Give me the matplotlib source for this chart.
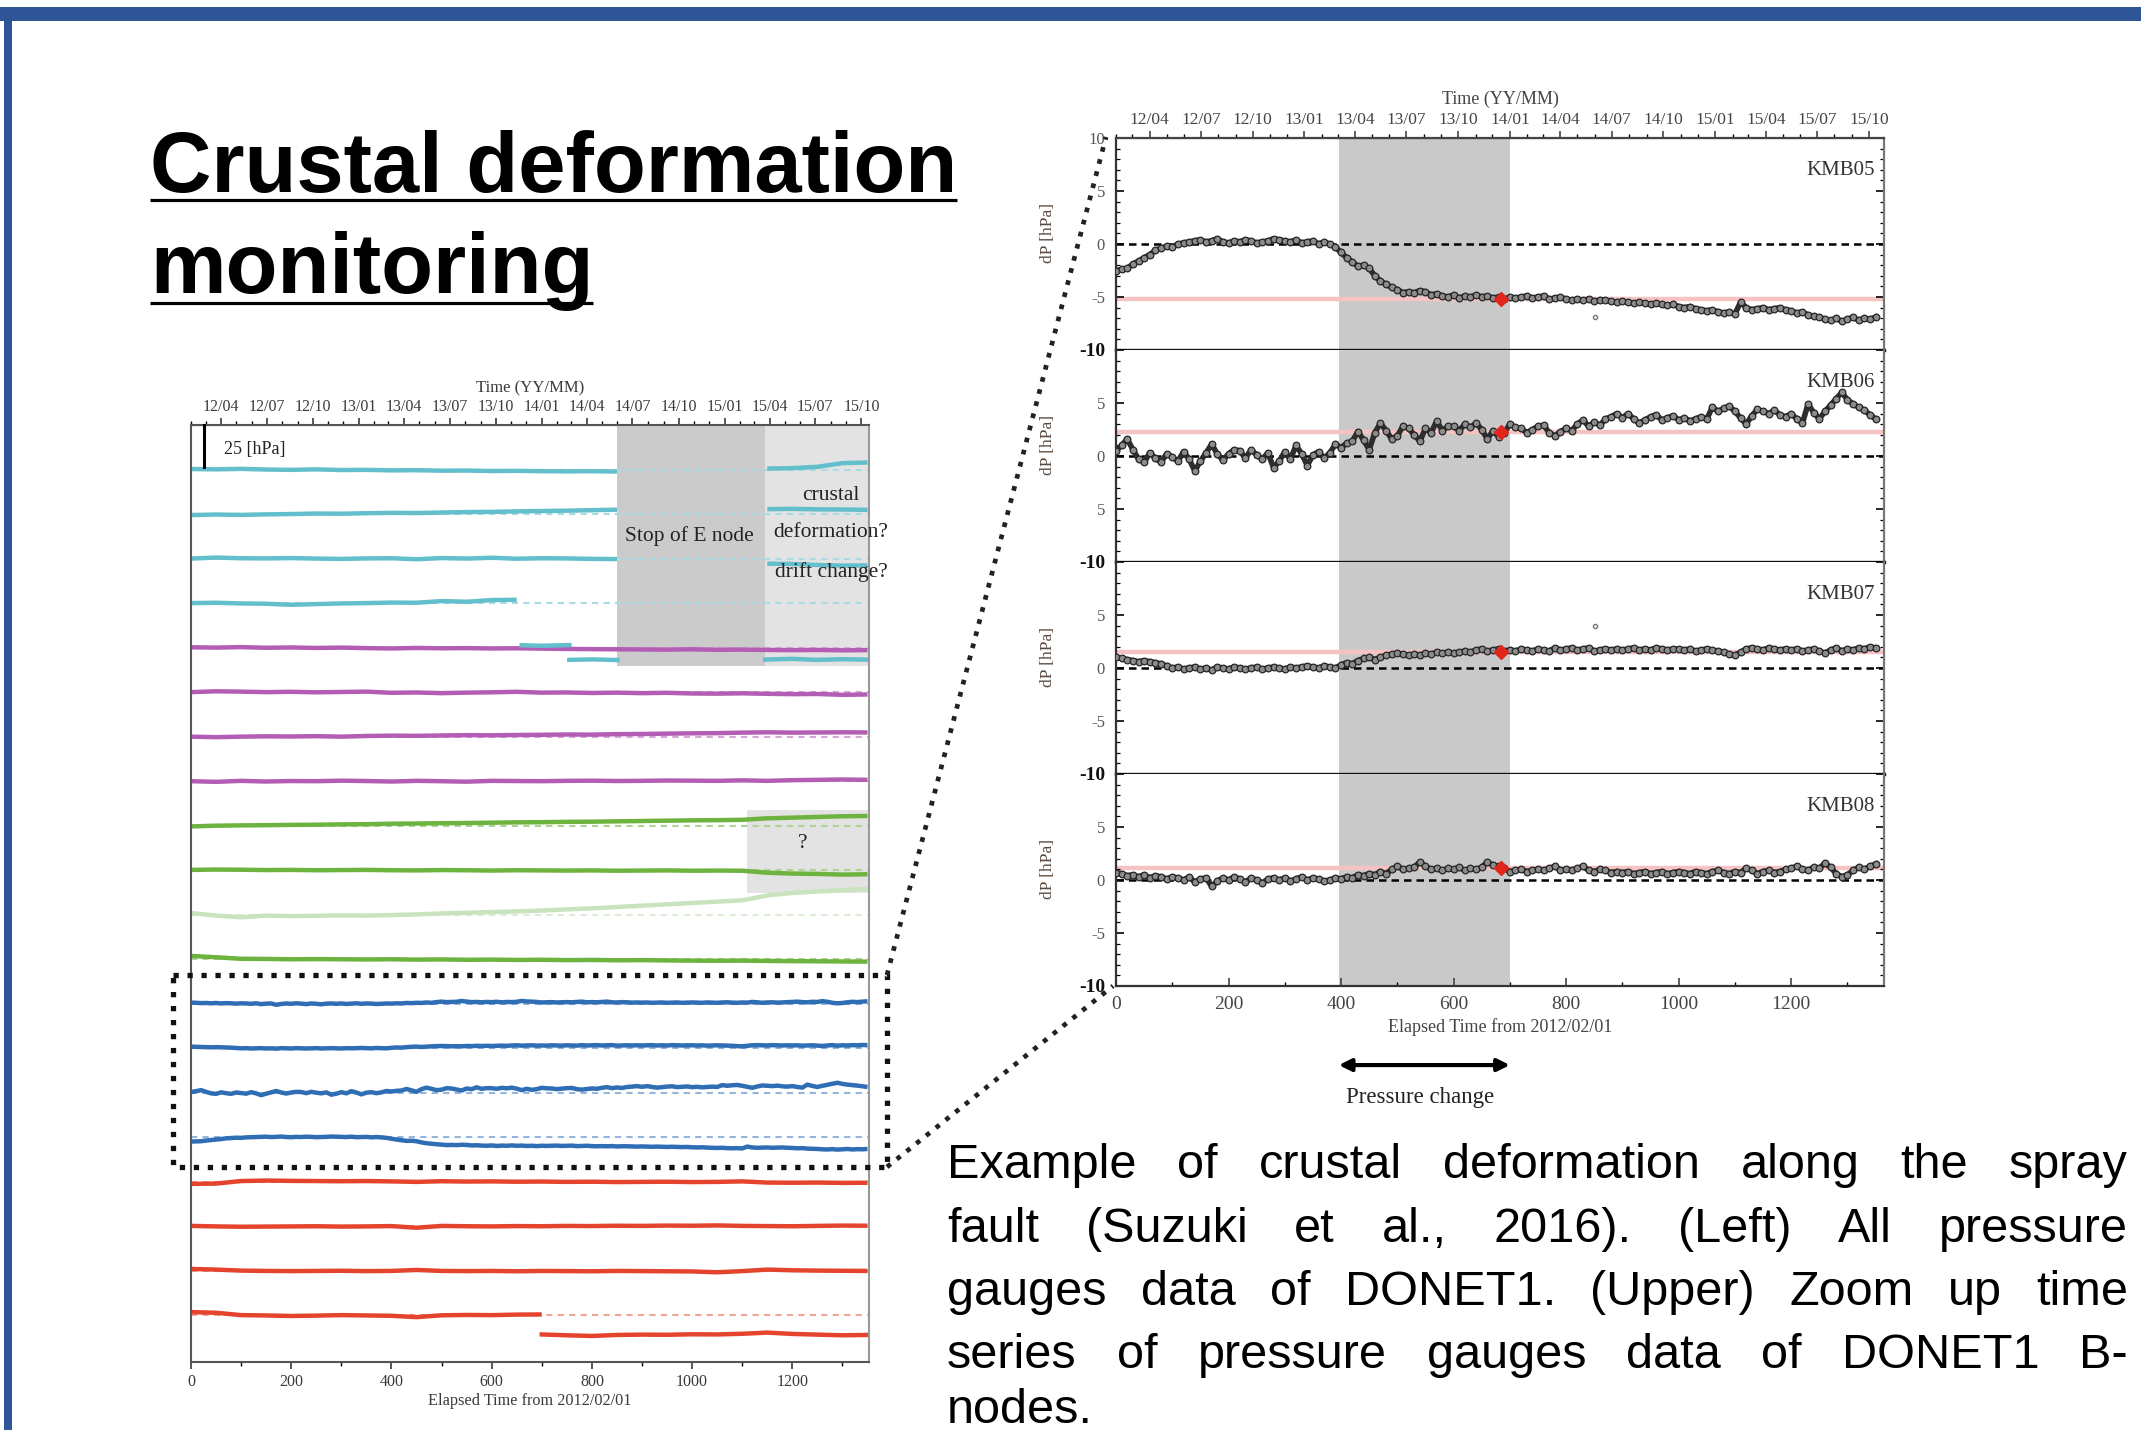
import datetime as dt
import numpy as np
import matplotlib
matplotlib.use("Agg")
import matplotlib.pyplot as plt
from matplotlib import font_manager
from matplotlib.patches import Rectangle
from matplotlib.ticker import MultipleLocator, FixedLocator

nan = np.nan

# ------------------------------------------------------------------
# DATA : zoomed B-node gauges (dP in hPa, one value every 10 days from 2012/02/01)
# ------------------------------------------------------------------
STEP_DAYS = 10
KMB05 = [-2.5, -2.4, -2.3, -1.9, -1.6, -1.3, -1.0, -0.6, -0.4, -0.2,
         -0.3, 0.0, 0.1, 0.2, 0.3, 0.4, 0.2, 0.3, 0.5, 0.2,
         0.1, 0.3, 0.2, 0.4, 0.3, 0.1, 0.2, 0.3, 0.5, 0.4,
         0.3, 0.2, 0.4, 0.1, 0.2, 0.3, 0.0, 0.2, 0.0, -0.3,
         -0.8, -1.3, -1.7, -2.1, -2.0, -2.3, -3.0, -3.5, -3.8, -4.1,
         -4.3, -4.6, -4.5, -4.6, -4.4, -4.5, -4.8, -4.7, -4.9, -5.0,
         -4.8, -5.1, -4.9, -5.0, -4.8, -5.0, -4.9, -5.1, -5.0, -5.2,
         -5.0, -5.1, -5.0, -4.9, -5.1, -5.0, -4.9, -5.2, -5.1, -5.0,
         -5.2, -5.3, -5.2, -5.3, -5.2, -5.4, -5.3, -5.3, -5.4, -5.5,
         -5.4, -5.5, -5.6, -5.5, -5.6, -5.7, -5.6, -5.7, -5.8, -5.7,
         -5.9, -6.0, -5.9, -6.1, -6.2, -6.3, -6.2, -6.4, -6.5, -6.4,
         -6.6, -5.5, -6.0, -6.2, -6.1, -6.0, -6.2, -6.1, -6.0, -6.2,
         -6.3, -6.5, -6.4, -6.7, -6.8, -6.9, -7.1, -7.2, -7.0, -7.3,
         -7.1, -6.9, -7.2, -7.0, -7.1, -6.9]
KMB06 = [0.5, 1.0, 1.6, 0.6, -0.3, -0.6, 0.3, -0.2, -0.6, 0.2,
         -0.1, -0.5, 0.4, -0.3, -1.4, -0.5, 0.3, 1.1, 0.2, -0.4,
         0.2, 0.6, 0.5, -0.2, 0.6, 0.1, -0.3, 0.3, -1.1, -0.5,
         0.4, -0.3, 1.0, 0.2, -0.9, 0.1, 0.4, -0.2, 0.3, 1.1,
         0.8, 1.2, 1.4, 2.3, 1.5, 0.6, 2.2, 3.1, 2.4, 1.6,
         1.9, 2.8, 2.6, 2.0, 1.4, 2.6, 2.2, 3.3, 2.4, 2.8,
         2.8, 2.4, 3.0, 2.7, 3.1, 2.5, 1.6, 2.4, 1.8, 2.2,
         3.0, 2.7, 2.6, 2.2, 2.5, 2.8, 2.9, 2.2, 1.9, 2.3,
         2.6, 2.4, 3.0, 3.4, 2.8, 3.2, 2.9, 3.5, 3.7, 4.0,
         3.6, 4.0, 3.5, 3.1, 3.4, 3.7, 3.9, 3.4, 3.6, 3.8,
         3.4, 3.6, 3.3, 3.5, 3.7, 3.5, 4.6, 4.2, 4.5, 4.7,
         4.2, 3.6, 3.0, 3.8, 4.4, 4.2, 4.0, 4.3, 3.9, 3.7,
         4.0, 3.5, 3.1, 4.9, 4.1, 3.5, 4.2, 4.8, 5.4, 6.0,
         5.3, 4.9, 4.6, 4.3, 3.9, 3.5]
KMB07 = [1.0, 0.9, 0.8, 0.7, 0.6, 0.7, 0.6, 0.5, 0.4, 0.2,
         0.0, 0.1, -0.1, 0.0, 0.1, -0.1, 0.0, -0.2, 0.1, 0.0,
         -0.1, 0.1, 0.0, -0.1, 0.0, 0.1, -0.1, 0.0, 0.1, 0.0,
         -0.1, 0.1, 0.0, 0.1, 0.2, 0.1, 0.0, 0.2, 0.1, 0.0,
         0.3, 0.5, 0.4, 0.7, 0.9, 1.0, 0.8, 1.0, 1.2, 1.3,
         1.4, 1.3, 1.2, 1.3, 1.2, 1.4, 1.3, 1.5, 1.4, 1.5,
         1.4, 1.5, 1.6, 1.5, 1.7, 1.8, 1.6, 1.7, 1.8, 1.6,
         1.7, 1.6, 1.8, 1.7, 1.6, 1.8, 1.7, 1.6, 1.9, 1.7,
         1.8, 1.9, 1.7, 1.8, 1.9, 1.6, 1.7, 1.8, 1.7, 1.8,
         1.7, 1.8, 1.9, 1.7, 1.8, 1.7, 1.9, 1.8, 1.7, 1.8,
         1.8, 1.7, 1.8, 1.6, 1.7, 1.8, 1.7, 1.6, 1.5, 1.3,
         1.2, 1.5, 1.8, 1.9, 1.8, 1.7, 1.9, 1.8, 1.7, 1.8,
         1.7, 1.8, 1.6, 1.7, 1.8, 1.6, 1.4, 1.7, 1.9, 1.6,
         1.8, 1.7, 1.9, 1.8, 2.0, 1.9]
KMB08 = [0.7, 0.6, 0.4, 0.5, 0.3, 0.5, 0.2, 0.4, 0.3, 0.1,
         0.3, 0.2, 0.0, 0.3, -0.2, 0.1, 0.2, -0.6, -0.1, 0.2,
         0.0, 0.3, 0.1, -0.2, 0.2, 0.0, -0.3, 0.1, 0.2, 0.0,
         0.2, -0.1, 0.1, 0.3, 0.0, 0.2, 0.1, -0.1, 0.0, 0.2,
         0.1, 0.3, 0.2, 0.5, 0.4, 0.6, 0.5, 0.8, 0.6, 1.0,
         1.3, 1.0, 1.1, 1.2, 1.7, 1.3, 1.0, 1.1, 0.9, 1.1,
         1.0, 1.2, 0.9, 1.1, 1.0, 1.2, 1.7, 1.4, 1.3, 1.1,
         0.8, 0.9, 1.0, 0.8, 0.9, 1.0, 0.9, 1.1, 1.3, 0.9,
         1.0, 0.9, 1.1, 1.3, 0.9, 0.8, 1.0, 0.9, 0.7, 0.8,
         0.7, 0.8, 0.6, 0.7, 0.8, 0.6, 0.7, 0.8, 0.6, 0.7,
         0.8, 0.7, 0.6, 0.8, 0.7, 0.6, 0.8, 0.9, 0.7, 0.6,
         0.8, 0.7, 1.1, 0.9, 0.6, 0.8, 0.9, 0.7, 0.8, 1.0,
         1.1, 1.3, 1.0, 0.9, 1.2, 1.1, 1.6, 1.2, 0.6, 0.3,
         0.5, 0.9, 1.2, 1.0, 1.3, 1.5]
KMB_NAMES = ["KMB05", "KMB06", "KMB07", "KMB08"]
REF_LEVELS = [-5.2, 2.3, 1.5, 1.1]
EVENT_DAY = 685
CHANGE_START, CHANGE_END = 396, 700
OUTLIER_DAYS = [851, 851]
OUTLIER_VALS = [-6.9, 4.0]
OUTLIER_PANEL = [0, 2]

# ------------------------------------------------------------------
# DATA : all DONET1 gauges (hPa relative to each trace baseline, every 50 days)
# ------------------------------------------------------------------
LEFT_STEP = 50
cyan_1 = [0.3, 0.1, 0.4, 0.0, -0.2, 0.1, -0.3, -0.2, -0.5, -0.4,
          -0.7, -0.6, -0.9, -0.8, -1.0, -1.1, -1.0, -1.2, nan, nan,
          nan, nan, nan, 0.6, 0.8, 1.6, 3.8, 4.2]
cyan_2 = [-0.6, -0.3, -0.5, -0.2, 0.0, 0.3, 0.2, 0.5, 0.7, 0.6,
          0.9, 1.2, 1.3, 1.6, 1.8, 2.0, 2.3, 2.6, nan, nan,
          nan, nan, nan, 2.9, 3.1, 2.8, 2.7, 2.5]
cyan_3 = [0.0, 0.6, 0.2, 0.1, 0.3, 0.0, -0.2, 0.1, 0.2, -0.4,
          0.3, 0.0, 0.5, -0.1, 0.2, 0.1, -0.2, -0.3, nan, nan,
          nan, nan, nan, -3.0, -3.2, -3.8, -4.2, -4.1]
cyan_4 = [0.0, 0.2, -0.2, -0.4, -1.0, -0.6, -0.2, 0.0, 0.3, 0.2,
          1.2, 0.8, 1.8, 2.0, nan, nan, nan, nan, nan, nan,
          nan, nan, nan, nan, nan, nan, nan, nan]
# cyan gauge 4 after its offset (days, hPa relative to its own baseline)
cyan_4_shift_days = [[660, 700, 755], [755, 800, 851], [1146, 1200, 1250, 1300, 1353]]
cyan_4_shift_vals = [[-25.1, -25.4, -25.0], [-33.8, -33.5, -33.9],
                     [-33.6, -33.2, -33.8, -33.4, -33.7]]
magenta_1 = [0.2, 0.0, 0.3, -0.1, 0.1, -0.2, 0.0, -0.3, -0.5, -0.2,
             -0.4, -0.3, -0.5, -0.4, -0.6, -0.8, -0.9, -1.0, -1.1, -1.2,
             -1.0, -1.3, -1.2, -1.4, -1.5, -1.4, -1.6, -1.5]
magenta_2 = [0.0, 0.5, 0.3, 0.0, 0.2, -0.1, 0.1, 0.3, -0.4, -0.2,
             -0.6, -0.3, -0.1, 0.2, -0.3, -0.2, -0.5, -0.3, -0.6, -0.4,
             -0.8, -0.9, -0.7, -1.0, -1.2, -1.1, -1.6, -1.4]
magenta_3 = [0.0, -0.3, 0.0, 0.2, 0.1, 0.3, 0.0, 0.4, 0.6, 0.5,
             0.7, 0.9, 0.8, 1.0, 1.1, 1.3, 1.2, 1.5, 1.6, 1.8,
             2.0, 2.1, 2.4, 2.6, 2.4, 2.5, 2.6, 2.5]
magenta_4 = [0.0, -0.4, 0.2, -0.2, 0.1, 0.0, 0.3, 0.1, -0.2, 0.2,
             0.0, -0.3, 0.2, 0.1, 0.0, 0.2, 0.3, 0.1, 0.2, 0.4,
             0.3, 0.2, 0.5, 0.2, 0.6, 0.8, 1.0, 0.8]
green_1 = [-0.4, 0.0, 0.2, 0.3, 0.5, 0.6, 0.8, 0.9, 1.2, 1.3,
           1.5, 1.6, 1.8, 2.0, 2.1, 2.3, 2.4, 2.6, 2.8, 3.0,
           3.2, 3.3, 3.5, 4.4, 4.8, 5.2, 5.6, 5.8]
green_2 = [0.2, 0.4, 0.3, 0.1, 0.2, 0.0, 0.1, 0.2, 0.0, -0.1,
           0.1, 0.0, -0.2, 0.0, -0.1, -0.2, -0.1, -0.3, -0.2, -0.1,
           -0.3, -0.2, -0.3, -1.5, -2.0, -2.2, -2.6, -2.4]
green_3 = [1.0, -0.5, -1.5, -0.5, -0.8, -0.6, -0.4, -0.5, -0.2, 0.2,
           0.8, 1.2, 1.6, 2.0, 2.5, 3.2, 3.8, 4.6, 5.4, 6.2,
           7.0, 7.8, 8.6, 11.5, 13.0, 13.8, 14.6, 15.4]
green_4 = [2.0, 1.2, 0.3, 0.2, 0.0, 0.1, 0.0, -0.1, 0.0, -0.2,
           -0.1, -0.3, -0.2, -0.4, -0.3, -0.5, -0.4, -0.6, -0.5, -0.7,
           -0.8, -0.9, -0.8, -1.0, -1.1, -1.2, -1.3, -1.4]
red_1 = [-1.2, -1.0, 0.5, 0.8, 0.6, 0.5, 0.4, 0.5, 0.3, 0.0,
         0.4, 0.2, 0.3, 0.1, 0.2, 0.0, 0.1, -0.1, 0.0, 0.1,
         -0.1, 0.0, 0.3, -0.4, -0.5, -0.4, -0.6, -0.5]
red_2 = [0.3, 0.0, -0.2, -0.1, 0.0, 0.1, -0.1, 0.0, 0.2, -0.8,
         0.3, 0.1, 0.0, 0.2, 0.1, 0.3, 0.2, 0.4, 0.3, 0.5,
         0.4, 0.6, 0.3, 0.2, 0.1, 0.3, 0.5, 0.4]
red_3 = [1.2, 0.8, 0.2, 0.0, -0.1, 0.0, 0.1, -0.1, 0.0, 0.6,
         0.0, -0.1, 0.0, -0.2, 0.0, -0.1, -0.2, 0.0, -0.1, -0.2,
         -0.3, -0.8, -0.1, 0.8, 0.4, 0.2, 0.1, 0.0]
red_4 = [2.0, 1.6, 0.2, 0.0, -0.3, -0.1, 0.2, 0.0, -0.2, -1.0,
         0.1, 0.3, 0.2, 0.5, 0.6, nan, nan, nan, nan, nan,
         nan, nan, nan, nan, nan, nan, nan, nan]
red_4_after_start = 700
red_4_after = [-11.3, -11.8, -12.2, -11.6, -11.4, -11.5, -11.2, -11.3, -10.9, -10.2,
               -11.0, -11.4, -11.8, -11.6]

DATE_LABELS = ["12/04", "12/07", "12/10", "13/01", "13/04", "13/07", "13/10",
               "14/01", "14/04", "14/07", "14/10", "15/01", "15/04", "15/07", "15/10"]
ORIGIN = dt.date(2012, 2, 1)
STOP_E_START, STOP_E_END = 851, 1146
GREEN_Q_START = 1110
SCALE_HPA = 25

TITLE_LINES = ["Crustal deformation", "monitoring"]
CAPTION_LINES = ["Example of crustal deformation along the spray",
                 "fault (Suzuki et al., 2016). (Left) All pressure",
                 "gauges data of DONET1. (Upper) Zoom up time",
                 "series of pressure gauges data of DONET1 B-",
                 "nodes."]

# ------------------------------------------------------------------
# STYLE / LAYOUT
# ------------------------------------------------------------------
SERIF = ["Liberation Serif", "DejaVu Serif"]
plt.rcParams["font.family"] = SERIF
names = {f.name for f in font_manager.fontManager.ttflist}
NARROW = "Liberation Sans Narrow" in names
SANS = ["Liberation Sans Narrow", "Liberation Sans", "DejaVu Sans"] if NARROW else ["Liberation Sans", "DejaVu Sans"]

W, H = 2141, 1430
fig = plt.figure(figsize=(W / 100, H / 100), dpi=100)
fig.patch.set_facecolor("white")


def box(x0, y0, x1, y1):
    return [x0 / W, 1 - y1 / H, (x1 - x0) / W, (y1 - y0) / H]


def day_of(lbl):
    yy, mm = lbl.split("/")
    return (dt.date(2000 + int(yy), int(mm), 1) - ORIGIN).days


date_days = [day_of(l) for l in DATE_LABELS]
month_days = []
d = dt.date(2012, 2, 1)
while d <= dt.date(2015, 10, 1):
    month_days.append((d - ORIGIN).days)
    d = dt.date(d.year + (d.month // 12), d.month % 12 + 1, 1)

C_CYAN, C_CYAN_D = "#63bfcc", "#a9dbe3"
C_MAG, C_MAG_D = "#b35db5", "#d7a6d8"
C_GRN, C_GRN_D = "#6db33f", "#aed394"
C_LGRN, C_LGRN_D = "#c9e3bf", "#dcecd5"
C_BLU, C_BLU_D = "#2f6db4", "#93b5de"
C_RED, C_RED_D = "#e4442d", "#f1a597"
TICK_C = "#3a3a3a"

# ------------------------------------------------------------------
# LEFT: all gauges
# ------------------------------------------------------------------
axL = fig.add_axes(box(191, 425, 869, 1362))
ROW_GAP = 26.5
XMAX_L = 1353
axL.set_xlim(0, XMAX_L)
axL.set_ylim(-557.7, 0)

left_rows = [(cyan_1, C_CYAN, C_CYAN_D, LEFT_STEP), (cyan_2, C_CYAN, C_CYAN_D, LEFT_STEP),
             (cyan_3, C_CYAN, C_CYAN_D, LEFT_STEP), (cyan_4, C_CYAN, C_CYAN_D, LEFT_STEP),
             (magenta_1, C_MAG, C_MAG_D, LEFT_STEP), (magenta_2, C_MAG, C_MAG_D, LEFT_STEP),
             (magenta_3, C_MAG, C_MAG_D, LEFT_STEP), (magenta_4, C_MAG, C_MAG_D, LEFT_STEP),
             (green_1, C_GRN, C_GRN_D, LEFT_STEP), (green_2, C_GRN, C_GRN_D, LEFT_STEP),
             (green_3, C_LGRN, C_LGRN_D, LEFT_STEP), (green_4, C_GRN, C_GRN_D, LEFT_STEP),
             (KMB08, C_BLU, C_BLU_D, STEP_DAYS), (KMB07, C_BLU, C_BLU_D, STEP_DAYS),
             (KMB06, C_BLU, C_BLU_D, STEP_DAYS), (KMB05, C_BLU, C_BLU_D, STEP_DAYS),
             (red_1, C_RED, C_RED_D, LEFT_STEP), (red_2, C_RED, C_RED_D, LEFT_STEP),
             (red_3, C_RED, C_RED_D, LEFT_STEP), (red_4, C_RED, C_RED_D, LEFT_STEP)]

# shaded periods
top_shade = -143.5
axL.add_patch(Rectangle((STOP_E_START, top_shade), STOP_E_END - STOP_E_START, -top_shade,
                        color="#cbcbcb", lw=0, zorder=0.5))
axL.add_patch(Rectangle((STOP_E_END, top_shade), XMAX_L - STOP_E_END, -top_shade,
                        color="#e3e3e3", lw=0, zorder=0.5))
axL.add_patch(Rectangle((GREEN_Q_START, -278.6), XMAX_L - GREEN_Q_START, 278.6 - 229.0,
                        color="#e3e3e3", lw=0, zorder=0.5))

for i, (vals, col, dcol, step) in enumerate(left_rows):
    base = -ROW_GAP * (i + 1)
    axL.plot([0, XMAX_L], [base, base], ls=(0, (3, 2.5)), color=dcol, lw=1.5, zorder=1)
    v = np.array(vals, dtype=float)
    x = np.arange(len(v)) * step
    axL.plot(x, base + v, color=col, lw=3.2, zorder=2, solid_capstyle="butt")

base4 = -ROW_GAP * 4
for dd, vv in zip(cyan_4_shift_days, cyan_4_shift_vals):
    axL.plot(dd, base4 + np.array(vv), color=C_CYAN, lw=3.2, zorder=2)
base20 = -ROW_GAP * 20
xa = red_4_after_start + np.arange(len(red_4_after)) * LEFT_STEP
axL.plot(xa, base20 + np.array(red_4_after), color=C_RED, lw=3.2, zorder=2)

# scale bar
axL.plot([26, 26], [0, -SCALE_HPA], color="k", lw=2.2, zorder=3, clip_on=False)
axL.text(66, -14.3, f"{SCALE_HPA} [hPa]", fontsize=13, va="center", ha="left", color="#222")

txt_kw = dict(fontsize=15.5, color="#222", ha="center", va="center", zorder=4, clip_on=False)
axL.text(994, -66, "Stop of E node", **txt_kw)
axL.text(1277, -41.7, "crustal", **txt_kw)
axL.text(1277, -63.7, "deformation?", **txt_kw)
axL.text(1277, -87.5, "drift change?", **txt_kw)
axL.text(1221, -248.8, "?", **txt_kw)

axL.set_yticks([])
axL.set_xticks(np.arange(0, 1201, 200))
axL.xaxis.set_minor_locator(MultipleLocator(100))
axL.tick_params(axis="x", which="major", direction="out", length=5, width=1.2,
                labelsize=11.5, colors=TICK_C, pad=4)
axL.tick_params(axis="x", which="minor", direction="out", length=3, width=1.0)
axL.set_xlabel("Elapsed Time from 2012/02/01", fontsize=11.7, color=TICK_C, labelpad=2)
for s, c in [("left", "#555"), ("right", "#999"), ("top", "#555"), ("bottom", "#555")]:
    axL.spines[s].set_color(c)
    axL.spines[s].set_linewidth(1.5)
secL = axL.secondary_xaxis("top")
secL.set_xticks(date_days, labels=DATE_LABELS)
secL.xaxis.set_minor_locator(FixedLocator(month_days))
secL.tick_params(axis="x", which="major", direction="out", length=5, width=1.2,
                 labelsize=11.5, colors=TICK_C, pad=2)
secL.tick_params(axis="x", which="minor", direction="out", length=3, width=1.0)
secL.set_xlabel("Time (YY/MM)", fontsize=12, color=TICK_C, labelpad=5)

# ------------------------------------------------------------------
# RIGHT: zoom on B-node gauges
# ------------------------------------------------------------------
KMB = [KMB05, KMB06, KMB07, KMB08]
XMAX_R = 1365
axR = []
ylabels_sets = [["-10", "-5", "0", "5", "10"], ["-10", "5", "0", "5", ""],
                ["-10", "-5", "0", "5", ""], ["-10", "-5", "0", "5", ""]]
for i in range(4):
    ax = fig.add_axes(box(1116, 138 + 212 * i, 1884, 138 + 212 * (i + 1)))
    axR.append(ax)
    vals = np.array(KMB[i], dtype=float)
    days = np.arange(len(vals)) * STEP_DAYS
    ax.axvspan(CHANGE_START, CHANGE_END, color="#c9c9c9", lw=0, zorder=0)
    ax.axhline(REF_LEVELS[i], color="#f6c3c3", lw=3.2, zorder=1)
    ax.axhline(0, color="k", ls=(0, (3, 2)), lw=1.8, zorder=2)
    ax.plot(days, vals, color="#2e2e2e", lw=4.0, zorder=3)
    ax.plot(days, vals, ls="none", marker="o", ms=4.8, mfc="#8c8c8c", mec="#262626",
            mew=0.9, zorder=4)
    for od, ov, op in zip(OUTLIER_DAYS, OUTLIER_VALS, OUTLIER_PANEL):
        if op == i:
            ax.plot([od], [ov], ls="none", marker="o", ms=3, mfc="none", mec="#777", zorder=4)
    ax.plot([EVENT_DAY], [REF_LEVELS[i]], ls="none", marker="D", ms=7, color="#e3261b", zorder=5)
    ax.set_xlim(0, XMAX_R)
    ax.set_ylim(-10, 10)
    ax.text(0.988, 0.845, KMB_NAMES[i], transform=ax.transAxes, ha="right", va="center",
            fontsize=15, color="#333", zorder=6)
    ax.set_yticks([-10, -5, 0, 5, 10], labels=ylabels_sets[i])
    ax.yaxis.set_minor_locator(MultipleLocator(1))
    ax.tick_params(axis="y", which="major", direction="in", length=6, width=1.2,
                   left=True, right=True, labelsize=12, labelcolor="#555", pad=8)
    ax.tick_params(axis="y", which="minor", direction="in", length=3, width=0.9,
                   left=True, right=True)
    for t in ax.get_yticklabels():
        if t.get_text() == "-10":
            t.set_fontweight("bold")
            t.set_color("#111")
            t.set_fontsize(14)
    ax.set_ylabel("dP [hPa]", fontsize=12.5, color="#5a4a40")
    ax.yaxis.set_label_coords(-0.078, 0.55)
    ax.spines["left"].set_color("#333")
    ax.spines["right"].set_color("#777")
    ax.spines["left"].set_linewidth(1.6)
    ax.spines["right"].set_linewidth(1.6)
    if i == 0:
        ax.spines["top"].set_color("#444")
        ax.spines["top"].set_linewidth(1.6)
    else:
        ax.spines["top"].set_visible(False)
    if i < 3:
        ax.spines["bottom"].set_color("#111")
        ax.spines["bottom"].set_linewidth(2.4)
        ax.set_xticks([])
    else:
        ax.spines["bottom"].set_color("#333")
        ax.spines["bottom"].set_linewidth(1.6)
        ax.set_xticks(np.arange(0, 1201, 200))
        ax.xaxis.set_minor_locator(MultipleLocator(100))
        ax.tick_params(axis="x", which="major", direction="in", length=6, width=1.2,
                       labelsize=14, colors="#444", pad=7)
        ax.tick_params(axis="x", which="minor", direction="in", length=3, width=1.0)
        ax.set_xlabel("Elapsed Time from 2012/02/01", fontsize=13, color="#444", labelpad=4)
        ax.annotate("", xy=(CHANGE_END, -0.373), xytext=(CHANGE_START, -0.373),
                    xycoords=ax.get_xaxis_transform(), textcoords=ax.get_xaxis_transform(),
                    arrowprops=dict(arrowstyle="<|-|>", lw=3, color="k", mutation_scale=18,
                                    shrinkA=0, shrinkB=0))
        ax.text((CHANGE_START + CHANGE_END) / 2 - 8, -0.525, "Pressure change",
                transform=ax.get_xaxis_transform(), ha="center", va="center",
                fontsize=16.5, color="#222")

secR = axR[0].secondary_xaxis("top")
secR.set_xticks(date_days, labels=DATE_LABELS)
secR.xaxis.set_minor_locator(FixedLocator(month_days))
secR.tick_params(axis="x", which="major", direction="out", length=5, width=1.2,
                 labelsize=12.5, colors="#444", pad=2)
secR.tick_params(axis="x", which="minor", direction="out", length=3, width=1.0)
secR.set_xlabel("Time (YY/MM)", fontsize=13, color="#444", labelpad=6)

# ------------------------------------------------------------------
# SLIDE decorations (pixel coordinates)
# ------------------------------------------------------------------
deco = fig.add_axes([0, 0, 1, 1], zorder=10)
deco.set_xlim(0, W)
deco.set_ylim(H, 0)
deco.axis("off")
deco.patch.set_alpha(0)

deco.add_patch(Rectangle((0, 7), W, 14, color="#2f5597", lw=0))
deco.add_patch(Rectangle((4, 7), 8, H, color="#2f5597", lw=0))

# dotted zoom frame and connectors
deco.add_patch(Rectangle((173, 975), 714, 192, fill=False, ls=":", lw=3.8, ec="#111"))
deco.plot([887, 1106], [975, 137], ls=":", lw=3.4, color="#222")
deco.plot([887, 1113], [1167, 986], ls=":", lw=3.4, color="#222")

renderer = fig.canvas.get_renderer()

# title
title_size = 64
t0 = deco.text(150, 192, TITLE_LINES[0], fontsize=title_size, fontweight="bold",
               family=SANS, va="baseline", ha="left", color="k")
w0 = t0.get_window_extent(renderer).width
if w0 > 830:
    title_size = title_size * 808 / w0
    t0.set_fontsize(title_size)
t1 = deco.text(150, 293, TITLE_LINES[1], fontsize=title_size, fontweight="bold",
               family=SANS, va="baseline", ha="left", color="k")
for t, yu in [(t0, 200), (t1, 303)]:
    bb = t.get_window_extent(renderer)
    deco.plot([150, 150 + bb.width], [yu, yu], color="k", lw=2.3, solid_capstyle="butt")

# caption (justified)
cap_size = 35
X0, X1 = 947, 2128
baselines = [1178, 1242, 1305, 1368, 1423]


def measure(words, size):
    ts = [deco.text(0, 0, w, fontsize=size, family=SANS) for w in words]
    ws = [t.get_window_extent(renderer).width for t in ts]
    for t in ts:
        t.remove()
    return ws


for line in CAPTION_LINES[:-1]:
    words = line.split(" ")
    ws = measure(words, cap_size)
    need = sum(ws) + (len(words) - 1) * 0.25 * cap_size * 100 / 72
    if need > X1 - X0:
        cap_size *= (X1 - X0) / need

for k, (line, yb) in enumerate(zip(CAPTION_LINES, baselines)):
    words = line.split(" ")
    ws = measure(words, cap_size)
    if k == len(CAPTION_LINES) - 1 or len(words) == 1:
        gap = 0.28 * cap_size * 100 / 72
    else:
        gap = (X1 - X0 - sum(ws)) / (len(words) - 1)
    x = X0
    for w, wd in zip(words, ws):
        deco.text(x, yb, w, fontsize=cap_size, family=SANS, va="baseline", ha="left", color="k")
        x += wd + gap

fig.savefig("out.png", dpi=100, facecolor="white")
